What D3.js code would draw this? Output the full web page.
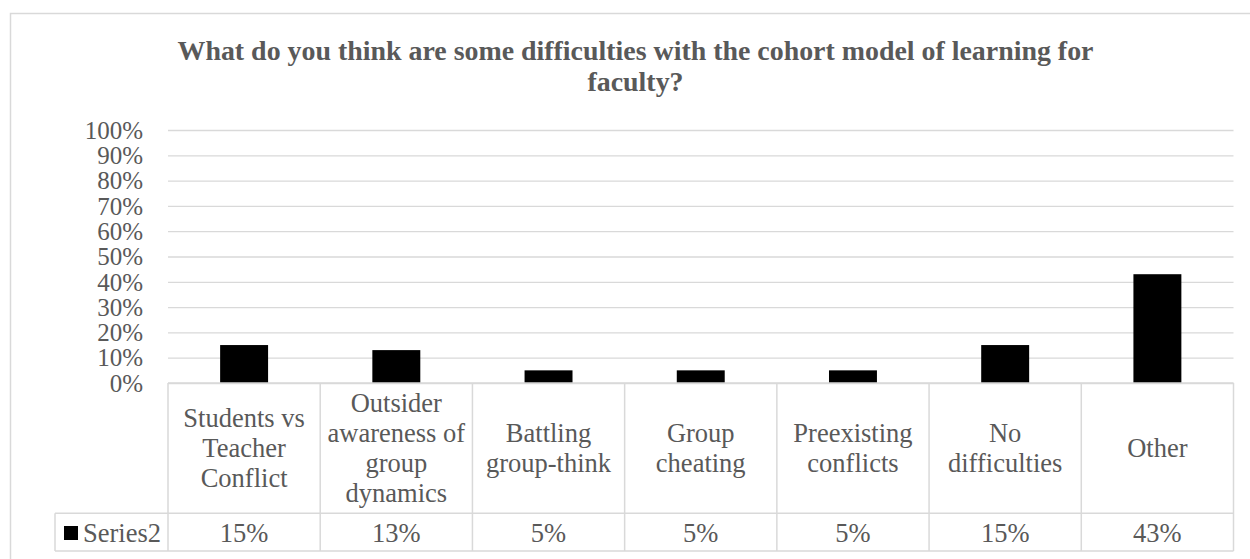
<!DOCTYPE html>
<html>
<head>
<meta charset="utf-8">
<script src="https://cdn.jsdelivr.net/npm/d3@7"></script>
<style>
  body { margin: 0; background: #fff; }
  svg { display: block; font-family: "Liberation Serif", "Times New Roman", serif; }
</style>
</head>
<body>
<svg id="chart" width="1250" height="559"></svg>
<script>
const TITLE = ["What do you think are some difficulties with the cohort model of learning for", "faculty?"];
const categories = [
  "Students vs Teacher Conflict",
  "Outsider awareness of group dynamics",
  "Battling group-think",
  "Group cheating",
  "Preexisting conflicts",
  "No difficulties",
  "Other"
];
const series2 = [0.15, 0.13, 0.05, 0.05, 0.05, 0.15, 0.43];
const seriesName = "Series2";
const yTicks = [0, 0.1, 0.2, 0.3, 0.4, 0.5, 0.6, 0.7, 0.8, 0.9, 1];

const TEXT = "#595959";
const LINE = "#d9d9d9";

const SVG = d3.select("#chart");

// chart frame
SVG.append("rect")
  .attr("x", 10.5).attr("y", 13.5)
  .attr("width", 1260).attr("height", 600)
  .attr("fill", "#fff").attr("stroke", LINE).attr("stroke-width", 1.5);

// TITLE
SVG.append("text")
  .attr("text-anchor", "middle")
  .style("font-weight", "bold")
  .style("font-size", "27.9px")
  .style("fill", TEXT)
  .selectAll("tspan")
  .data(TITLE)
  .join("tspan")
  .attr("x", 635.5)
  .attr("y", (d, i) => 60 + i * 31)
  .text((d) => d);

const LEFT = 168, RIGHT = 1233.5, TOP = 130, BOTTOM = 383;
const ROW1 = 513.3, ROW2 = 551, KEY_LEFT = 55;

// Y AXIS SCALE
const Y = d3.scaleLinear().domain([0, 1]).range([BOTTOM, TOP]);

// GRID
const GRID_G = SVG.append("g").attr("transform", `translate(${LEFT},0)`);
d3.axisLeft(Y).tickValues(yTicks).tickSize(-(RIGHT - LEFT)).tickFormat("")(GRID_G);
GRID_G.select(".domain").remove();
GRID_G.selectAll("line").attr("stroke", LINE).attr("stroke-width", 1.3);

// Y AXIS
const Y_AXIS_G = SVG.append("g").attr("transform", `translate(143,0)`);
d3.axisLeft(Y).tickValues(yTicks).tickSize(0).tickPadding(0).tickFormat(d3.format(".0%"))(Y_AXIS_G);
Y_AXIS_G.select(".domain").remove();
Y_AXIS_G.selectAll("text")
  .style("font-size", "25px")
  .style("fill", TEXT)
  .attr("dy", "0.33em");
Y_AXIS_G.attr("font-size", null).attr("font-family", null);

// X SCALES
const X_COL = d3.scaleBand().domain(categories).range([LEFT, RIGHT]).padding(0);
const X_BAR = d3.scaleBand().domain(categories).range([LEFT, RIGHT])
  .paddingInner(0.685).paddingOuter(0.3425);

// BARS
SVG.append("g")
  .selectAll("rect")
  .data(series2)
  .join("rect")
  .attr("x", (d, i) => X_BAR(categories[i]))
  .attr("width", X_BAR.bandwidth())
  .attr("y", (d) => Y(d))
  .attr("height", (d) => BOTTOM - Y(d))
  .attr("fill", "#000");

// DATA TABLE
const TABLE_G = SVG.append("g");
const tline = (x1, y1, x2, y2) =>
  TABLE_G.append("line")
    .attr("x1", x1).attr("y1", y1).attr("x2", x2).attr("y2", y2)
    .attr("stroke", LINE).attr("stroke-width", 1.5);

tline(LEFT, BOTTOM, RIGHT, BOTTOM);
tline(KEY_LEFT, ROW1, RIGHT, ROW1);
tline(KEY_LEFT, ROW2, RIGHT, ROW2);
tline(KEY_LEFT, ROW1, KEY_LEFT, ROW2);
categories.forEach((c) => tline(X_COL(c), BOTTOM, X_COL(c), ROW2));
tline(RIGHT, BOTTOM, RIGHT, ROW2);

// category labels (wrapped)
const LINE_H = 30;
categories.forEach((c) => {
  const cx = X_COL(c) + X_COL.bandwidth() / 2;
  const t = TABLE_G.append("text")
    .attr("text-anchor", "middle")
    .style("font-size", "26.5px")
    .style("fill", TEXT);
  const words = c.split(" ");
  const lines = [];
  let cur = [];
  const probe = t.append("tspan");
  words.forEach((w) => {
    const test = cur.concat(w).join(" ");
    probe.text(test);
    if (cur.length && probe.node().getComputedTextLength() > X_COL.bandwidth() - 10) {
      lines.push(cur.join(" "));
      cur = [w];
    } else cur.push(w);
  });
  lines.push(cur.join(" "));
  probe.remove();
  const midY = (BOTTOM + ROW1) / 2;
  const firstBase = midY - ((lines.length - 1) * LINE_H) / 2 + 9;
  t.selectAll("tspan")
    .data(lines)
    .join("tspan")
    .attr("x", cx)
    .attr("y", (d, i) => firstBase + i * LINE_H)
    .text((d) => d);
});

// values row
const fmt = d3.format(".0%");
TABLE_G.append("g")
  .selectAll("text")
  .data(series2)
  .join("text")
  .attr("x", (d, i) => X_COL(categories[i]) + X_COL.bandwidth() / 2)
  .attr("y", 541.5)
  .attr("text-anchor", "middle")
  .style("font-size", "26.5px")
  .style("fill", TEXT)
  .text((d) => fmt(d));

// legend key
TABLE_G.append("rect")
  .attr("x", 64).attr("y", 526)
  .attr("width", 14).attr("height", 14)
  .attr("fill", "#000");
TABLE_G.append("text")
  .attr("x", 83).attr("y", 541.5)
  .style("font-size", "26.5px")
  .style("fill", TEXT)
  .text(seriesName);
</script>
</body>
</html>
